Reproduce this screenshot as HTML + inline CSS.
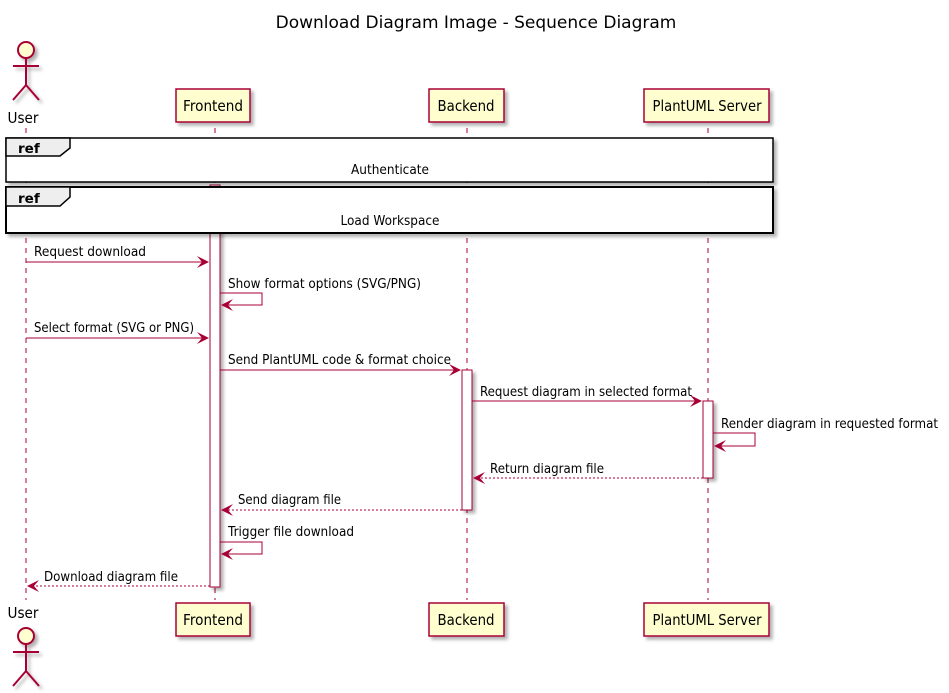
<!DOCTYPE html>
<html><head><meta charset="utf-8"><style>
html,body{margin:0;padding:0;background:#fff;}
svg{display:block;font-family:"DejaVu Sans","Liberation Sans",sans-serif;}
</style></head><body>
<svg width="949" height="693" viewBox="0 0 949 693" xmlns="http://www.w3.org/2000/svg">
<defs>
<filter id="sh" x="-20%" y="-20%" width="150%" height="150%"><feDropShadow dx="3" dy="3" stdDeviation="1.5" flood-color="#000" flood-opacity="0.3"/></filter>
</defs>
<text x="476" y="28" font-size="17" text-anchor="middle" fill="#000">Download Diagram Image - Sequence Diagram</text>
<g stroke="#A80036" stroke-width="1" stroke-dasharray="5,5">
<line x1="26" y1="128" x2="26" y2="600"/>
<line x1="215" y1="128" x2="215" y2="600"/>
<line x1="467" y1="128" x2="467" y2="600"/>
<line x1="708" y1="128" x2="708" y2="600"/>
</g>
<g fill="#fff" stroke="#A80036" stroke-width="1" filter="url(#sh)">
<rect x="210" y="185" width="10" height="402"/>
<rect x="462" y="370" width="10" height="140"/>
<rect x="703" y="401" width="10" height="77"/>
</g>
<g stroke="#A80036" stroke-width="2" fill="none" filter="url(#sh)">
<circle cx="26" cy="50" r="8" fill="#FEFECE"/>
<line x1="26" y1="58" x2="26" y2="85"/><line x1="13" y1="66" x2="39" y2="66"/>
<line x1="26" y1="85" x2="13" y2="100"/><line x1="26" y1="85" x2="39" y2="100"/>
<circle cx="26" cy="636" r="8" fill="#FEFECE"/>
<line x1="26" y1="644" x2="26" y2="671"/><line x1="13" y1="652" x2="39" y2="652"/>
<line x1="26" y1="671" x2="13" y2="686"/><line x1="26" y1="671" x2="39" y2="686"/>
</g>
<g font-size="15" fill="#000">
<text x="23" y="123" text-anchor="middle" textLength="31" lengthAdjust="spacingAndGlyphs">User</text>
<text x="23" y="618" text-anchor="middle" textLength="31" lengthAdjust="spacingAndGlyphs">User</text>
</g>
<g fill="#FEFECE" stroke="#A80036" stroke-width="1.5" filter="url(#sh)">
<rect x="176" y="89" width="74" height="33"/><rect x="429" y="89" width="75" height="33"/><rect x="644" y="89" width="125" height="33"/>
<rect x="176" y="603" width="74" height="33"/><rect x="429" y="603" width="75" height="33"/><rect x="644" y="603" width="125" height="33"/>
</g>
<g font-size="15" fill="#000" text-anchor="middle">
<text x="213" y="111" textLength="60" lengthAdjust="spacingAndGlyphs">Frontend</text><text x="466" y="111" textLength="57" lengthAdjust="spacingAndGlyphs">Backend</text><text x="707" y="111" textLength="109" lengthAdjust="spacingAndGlyphs">PlantUML Server</text>
<text x="213" y="625" textLength="60" lengthAdjust="spacingAndGlyphs">Frontend</text><text x="466" y="625" textLength="57" lengthAdjust="spacingAndGlyphs">Backend</text><text x="707" y="625" textLength="109" lengthAdjust="spacingAndGlyphs">PlantUML Server</text>
</g>
<g filter="url(#sh)">
<rect x="6" y="138" width="767" height="44" fill="#fff" stroke="#000" stroke-width="1.5"/>
<rect x="6" y="187" width="767" height="46" fill="#fff" stroke="#000" stroke-width="2"/>
</g>
<path d="M6 138 H70 V148 L60 156 H6 Z" fill="#EEEEEE" stroke="#000" stroke-width="1.5"/>
<path d="M6 187 H70 V197 L60 206 H6 Z" fill="#EEEEEE" stroke="#000" stroke-width="1.5"/>
<g font-size="13.5" fill="#000">
<text x="18" y="153" font-weight="bold">ref</text>
<text x="18" y="203" font-weight="bold">ref</text>
<text x="390" y="174" text-anchor="middle" textLength="78" lengthAdjust="spacingAndGlyphs">Authenticate</text>
<text x="390" y="225" text-anchor="middle" textLength="99" lengthAdjust="spacingAndGlyphs">Load Workspace</text>
</g>
<g stroke="#A80036" stroke-width="1" fill="none">
<line x1="26" y1="262" x2="208" y2="262"/>
<polyline points="220,293 262,293 262,305 222,305"/>
<line x1="26" y1="338" x2="208" y2="338"/>
<line x1="220" y1="370" x2="460" y2="370"/>
<line x1="472" y1="401" x2="701" y2="401"/>
<polyline points="713,433 755,433 755,446 715,446"/>
<line x1="703" y1="478" x2="474" y2="478" stroke-dasharray="2,2"/>
<line x1="462" y1="510" x2="222" y2="510" stroke-dasharray="2,2"/>
<polyline points="220,542 262,542 262,554 222,554"/>
<line x1="210" y1="586" x2="28" y2="586" stroke-dasharray="2,2"/>
</g>
<g fill="#A80036">
<path d="M209 262 L197 256 L202 262 L197 268 Z"/>
<path d="M221 305 L233 299 L228 305 L233 311 Z"/>
<path d="M209 338 L197 332 L202 338 L197 344 Z"/>
<path d="M461 370 L449 364 L454 370 L449 376 Z"/>
<path d="M702 401 L690 395 L695 401 L690 407 Z"/>
<path d="M714 446 L726 440 L721 446 L726 452 Z"/>
<path d="M473 478 L485 472 L480 478 L485 484 Z"/>
<path d="M221 510 L233 504 L228 510 L233 516 Z"/>
<path d="M221 554 L233 548 L228 554 L233 560 Z"/>
<path d="M27 586 L39 580 L34 586 L39 592 Z"/>
</g>
<g font-size="13.5" fill="#000">
<text x="34" y="256" textLength="112" lengthAdjust="spacingAndGlyphs">Request download</text>
<text x="228" y="288" textLength="193" lengthAdjust="spacingAndGlyphs">Show format options (SVG/PNG)</text>
<text x="34" y="332" textLength="160" lengthAdjust="spacingAndGlyphs">Select format (SVG or PNG)</text>
<text x="228" y="364" textLength="223" lengthAdjust="spacingAndGlyphs">Send PlantUML code &amp; format choice</text>
<text x="480" y="396" textLength="212" lengthAdjust="spacingAndGlyphs">Request diagram in selected format</text>
<text x="721" y="428" textLength="217" lengthAdjust="spacingAndGlyphs">Render diagram in requested format</text>
<text x="490" y="473" textLength="114" lengthAdjust="spacingAndGlyphs">Return diagram file</text>
<text x="238" y="504" textLength="103" lengthAdjust="spacingAndGlyphs">Send diagram file</text>
<text x="228" y="536" textLength="126" lengthAdjust="spacingAndGlyphs">Trigger file download</text>
<text x="44" y="581" textLength="134" lengthAdjust="spacingAndGlyphs">Download diagram file</text>
</g>
</svg>
</body></html>
